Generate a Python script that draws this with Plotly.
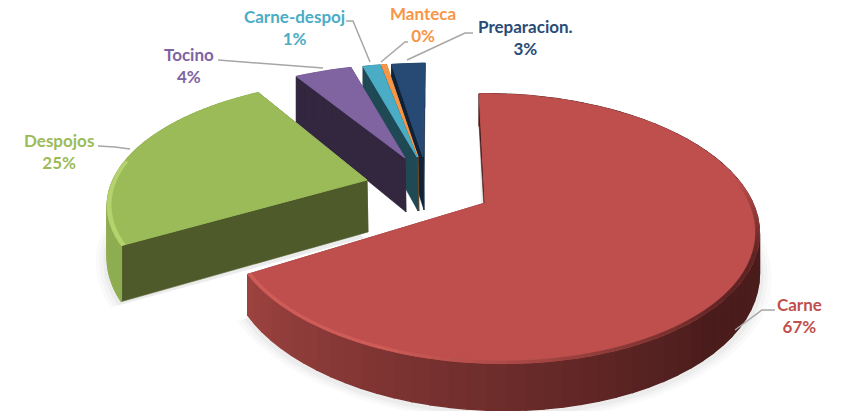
import math
import plotly.graph_objects as go

categories = ["Carne", "Despojos", "Tocino", "Carne-despoj", "Manteca", "Preparacion."]
values = [66.5, 25.0, 4.3, 1.3, 0.4, 2.5]
percent_labels = ["67%", "25%", "4%", "1%", "0%", "3%"]

top_colors = ["#BE4F4D", "#9BBB59", "#8064A2", "#4BACC6", "#F79646", "#264A73"]
text_colors = ["#C0504D", "#9BBB59", "#8064A2", "#4BACC6", "#F79646", "#2A4B77"]
wall_colors = ["#4A1C1C", "#4F5A2A", "#33273F", "#1F4A55", "#7A4A20", "#0F2238"]
apex_px = [(485, 203), (367, 180), (405, 158), (417, 157), (418, 157), (423, 157)]
scale_x = [0.985, 0.99, 0.97, 0.97, 0.97, 0.97]
scale_y = [1.0, 0.92, 0.86, 0.86, 0.86, 0.86]
shear = [-7, 6, 2.5, 2.5, 2.5, 2.5]
height_px = [38, 52, 54, 54, 54, 53]
draw_order = [5, 4, 3, 2, 1, 0]
label_px = [(799, 315), (59, 151), (189, 65), (294, 27), (423, 24), (525, 37)]
leaders = [
    [(735, 330), (762, 310), (775, 310)],
    [(130, 149), (115, 147), (98, 146)],
    [(323, 68), (218, 60)],
    [(370, 62), (353, 21), (346, 21)],
    [(381, 62), (405, 42), (408, 42)],
    [(407, 60), (465, 33), (473, 33)],
]
B, A, P, Q = 264, 130, 0.19, -0.029


def hex_rgb(c):
    return tuple(int(c[i:i + 2], 16) for i in (1, 3, 5))


def mix(c1, c2, t):
    a, b = hex_rgb(c1), hex_rgb(c2)
    t = max(0, min(1, t))
    return "rgb(%d,%d,%d)" % tuple(round(a[i] + (b[i] - a[i]) * t) for i in range(3))


fig = go.Figure()


def poly(pts, color, lw=0.6):
    fig.add_trace(go.Scatter(
        x=[p[0] for p in pts] + [pts[0][0]], y=[p[1] for p in pts] + [pts[0][1]],
        mode="lines", fill="toself", fillcolor=color,
        line=dict(color=color, width=lw), hoverinfo="skip", showlegend=False))


def project(i, theta, r=1.0, low=False, grow=1.0):
    x = r * math.sin(math.radians(theta))
    y = r * math.cos(math.radians(theta))
    d = 1 + P * y + Q * x
    ax, ay = apex_px[i]
    sx = ax + (B * x * scale_x[i] * grow + shear[i] * y) / d
    sy = ay - A * y * scale_y[i] * grow / d
    if low:
        sy += height_px[i] / d
    return sx, sy


def arc(t0, t1, n):
    return [t0 + (t1 - t0) * k / n for k in range(n + 1)]


total = sum(values)
spans = []
cum = 0.0
for v in values:
    spans.append((cum, cum + v / total * 360))
    cum += v / total * 360

# soft shadows under the two large slices
for g, alpha in [(1.045, 0.03), (1.03, 0.04), (1.015, 0.05)]:
    for i in (1, 0):
        t0, t1 = spans[i]
        ax, ay = apex_px[i]
        pts = [(ax - 3, ay + height_px[i] + 6)]
        for t in arc(t0, t1, 80):
            sx, sy = project(i, t, low=True, grow=g)
            pts.append((sx, sy + 3))
        poly(pts, "rgba(90,90,90,%s)" % alpha, lw=0)

for i in draw_order:
    t0, t1 = spans[i]
    ap_t = apex_px[i]
    ap_b = (ap_t[0] + 1, ap_t[1] + height_px[i])
    # flat cut faces
    poly([project(i, t0), ap_t, ap_b, project(i, t0, low=True)], wall_colors[i])
    poly([project(i, t1), ap_t, ap_b, project(i, t1, low=True)], wall_colors[i])
    # rounded outer wall, shaded across the sweep
    n = 70 if i < 2 else 6
    ths = arc(t0, t1, n)
    for a, b in zip(ths[:-1], ths[1:]):
        if i == 0:
            col = mix("#4A1C1C", "#9E4340", ((a + b) / 2 - 135) / 105)
        elif i == 1:
            col = "#8FAD51"
        else:
            col = wall_colors[i]
        poly([project(i, a), project(i, b), project(i, b, low=True), project(i, a, low=True)],
             col, lw=1.4 if i < 2 else 0.3)
    # top face
    tops = [project(i, t) for t in arc(t0, t1, 90 if i < 2 else 8)]
    poly([ap_t] + tops, top_colors[i], lw=1.0)
    # bevel along the rim
    if i == 0:
        ths = arc(80, t1, 80)
        for a, b in zip(ths[:-1], ths[1:]):
            m = (a + b) / 2
            if m < 110:
                col = mix("#BE4F4D", "#5E2423", (m - 80) / 30)
            else:
                col = mix("#5E2423", "#CF5C58", (m - 130) / 70)
            poly([project(i, a), project(i, b), project(i, b, r=0.987), project(i, a, r=0.987)], col)
    if i == 1:
        ths = arc(t0, t0 + 40, 30)
        for a, b in zip(ths[:-1], ths[1:]):
            poly([project(i, a), project(i, b), project(i, b, r=0.985), project(i, a, r=0.985)], "#B5D46E")

for i, path in enumerate(leaders):
    fig.add_trace(go.Scatter(x=[p[0] for p in path], y=[p[1] for p in path], mode="lines",
                             line=dict(color="#A6A6A6", width=1.5), hoverinfo="skip", showlegend=False))
    fig.add_annotation(x=label_px[i][0], y=label_px[i][1], showarrow=False,
                       text="<b>%s</b><br><b>%s</b>" % (categories[i], percent_labels[i]),
                       align="center", font=dict(family="Lato", size=17, color=text_colors[i]))

fig.update_layout(width=848, height=411, margin=dict(l=0, r=0, t=0, b=0),
                  paper_bgcolor="white", plot_bgcolor="white", showlegend=False,
                  xaxis=dict(range=[0, 848], visible=False, fixedrange=True),
                  yaxis=dict(range=[411, 0], visible=False, fixedrange=True))
fig.write_html("out.html", config={"displayModeBar": False},
               post_script="document.body.style.margin='0';document.body.style.overflow='hidden';")
